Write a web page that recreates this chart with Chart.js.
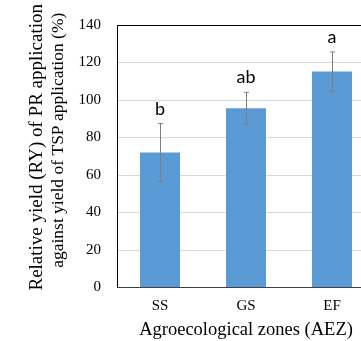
<!DOCTYPE html>
<html>
<head>
<meta charset="utf-8">
<script src="https://cdn.jsdelivr.net/npm/chart.js@4"></script>
<style>
  html, body { margin: 0; padding: 0; overflow: hidden; background: #fff; }
  #wrap { width: 361px; height: 341px; overflow: hidden; }
</style>
</head>
<body>
<div id="wrap"><canvas id="ryChart" width="380" height="341"></canvas></div>
<script>
// data
const zones = ['SS', 'GS', 'EF'];
const ryMeans = [72, 95.6, 115.2];
const ryErrors = [15.4, 8.5, 10.4];
const sigLetters = ['b', 'ab', 'a'];
const yTickValues = [0, 20, 40, 60, 80, 100, 120, 140];
const yTitleLines = ['Relative yield (RY) of PR application', 'against yield of TSP application (%)'];

// error bars + significance letters drawn on top of the bars
const errorBarPlugin = {
  id: 'errorBars',
  afterDatasetsDraw(chart) {
    const ctx = chart.ctx;
    const yScale = chart.scales.y;
    const meta = chart.getDatasetMeta(0);
    ctx.save();
    meta.data.forEach((bar, i) => {
      const x = Math.round(bar.x) + 0.5;
      const top = yScale.getPixelForValue(ryMeans[i] + ryErrors[i]);
      const bot = yScale.getPixelForValue(ryMeans[i] - ryErrors[i]);
      ctx.strokeStyle = '#7f7f7f';
      ctx.lineWidth = 1;
      ctx.beginPath();
      ctx.moveTo(x, top);
      ctx.lineTo(x, bot);
      ctx.moveTo(x - 2.5, top);
      ctx.lineTo(x + 2.5, top);
      ctx.moveTo(x - 2.5, bot);
      ctx.lineTo(x + 2.5, bot);
      ctx.stroke();

      ctx.fillStyle = '#000';
      ctx.font = '18px Lato, "Open Sans", sans-serif';
      ctx.textAlign = 'center';
      ctx.textBaseline = 'alphabetic';
      ctx.fillText(sigLetters[i], bar.x, top - 9);
    });
    ctx.restore();
  }
};

// two-line rotated y title, sits a bit above the axis centre like the original
const yTitlePlugin = {
  id: 'yTitle',
  afterDraw(chart) {
    const ctx = chart.ctx;
    const area = chart.chartArea;
    const mid = (area.top + area.bottom) / 2;
    ctx.save();
    ctx.fillStyle = '#000';
    ctx.textAlign = 'center';
    ctx.textBaseline = 'alphabetic';
    // [baseline x, centre y, font size]
    [[42, mid - 9, 19], [62.5, mid - 16, 17.5]].forEach(([bx, cy, fs], i) => {
      ctx.save();
      ctx.font = fs + 'px "Liberation Serif", serif';
      ctx.translate(bx, cy);
      ctx.rotate(-Math.PI / 2);
      ctx.fillText(yTitleLines[i], 0, 0);
      ctx.restore();
    });
    ctx.restore();
  }
};

new Chart(document.getElementById('ryChart'), {
  type: 'bar',
  data: {
    labels: zones,
    datasets: [{
      data: ryMeans,
      backgroundColor: '#5b9bd5',
      borderWidth: 0,
      barPercentage: 0.465,
      categoryPercentage: 1
    }]
  },
  options: {
    responsive: false,
    animation: false,
    layout: { padding: { top: 25, right: 5, left: 0, bottom: 0 } },
    plugins: {
      legend: { display: false },
      tooltip: { enabled: false }
    },
    scales: {
      x: {
        grid: { display: false, drawTicks: false },
        border: { display: true, color: '#404040', width: 1 },
        ticks: {
          color: '#000',
          padding: 10,
          font: { family: '"Liberation Serif", serif', size: 15 }
        },
        title: {
          display: true,
          text: 'Agroecological zones (AEZ)',
          color: '#000',
          font: { family: '"Liberation Serif", serif', size: 18.5, lineHeight: 1.2 },
          padding: { top: 0, bottom: 0 }
        },
        afterFit(scale) { scale.height = 53.5; }
      },
      y: {
        min: 0,
        max: 140,
        afterBuildTicks(scale) {
          scale.ticks = yTickValues.map(v => ({ value: v }));
        },
        grid: {
          drawTicks: false,
          color: (c) => c.tick && c.tick.value === 140 ? '#000' : '#d9d9d9'
        },
        border: { display: true, color: '#000', width: 1 },
        ticks: {
          color: '#000',
          padding: 16,
          font: { family: '"Liberation Serif", serif', size: 15 }
        },
        afterFit(scale) { scale.width = 117; }
      }
    }
  },
  plugins: [errorBarPlugin, yTitlePlugin]
});
</script>
</body>
</html>
